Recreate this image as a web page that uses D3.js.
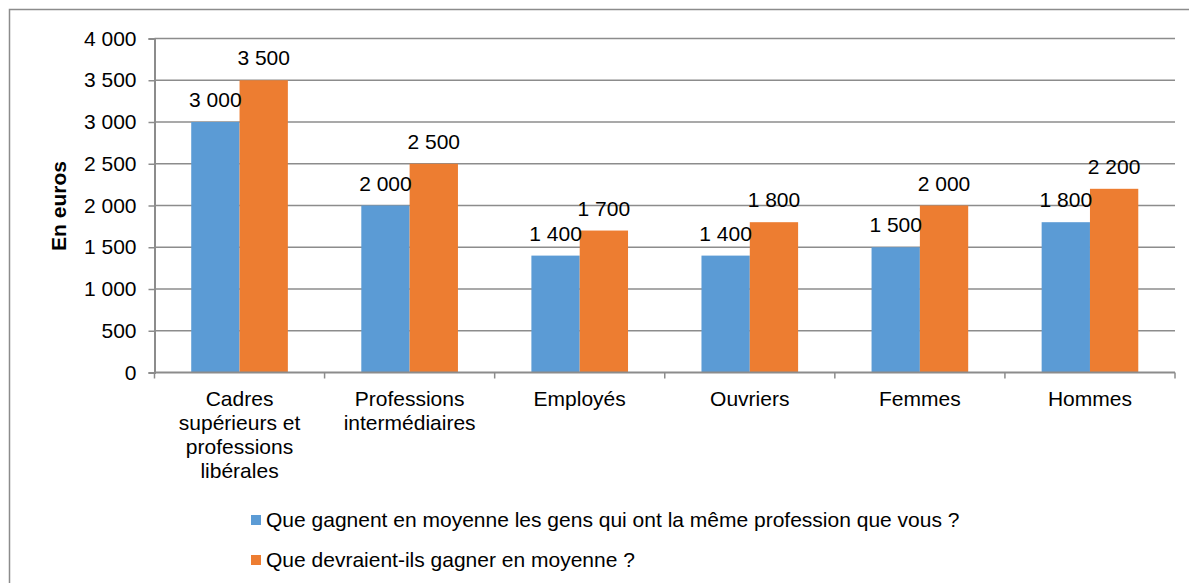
<!DOCTYPE html>
<html>
<head>
<meta charset="utf-8">
<script src="https://cdn.jsdelivr.net/npm/d3@7"></script>
<style>
  body { margin: 0; background: #fff; }
  text { font-family: "Liberation Sans", Arial, sans-serif; fill: #000; }
</style>
</head>
<body>
<div id="chart"></div>
<script>
var categories = [
  ["Cadres", "supérieurs et", "professions", "libérales"],
  ["Professions", "intermédiaires"],
  ["Employés"],
  ["Ouvriers"],
  ["Femmes"],
  ["Hommes"]
];
var seriesNames = [
  "Que gagnent en moyenne les gens qui ont la même profession que vous ?",
  "Que devraient-ils gagner en moyenne ?"
];
var gagnent = [3000, 2000, 1400, 1400, 1500, 1800];
var devraient = [3500, 2500, 1700, 1800, 2000, 2200];
var yTicks = [0, 500, 1000, 1500, 2000, 2500, 3000, 3500, 4000];
var colors = ["#5b9bd5", "#ed7d31"];

var width = 1189;
var height = 583;
var m = { l: 154.5, t: 38.5, r: 14, b: 210.5 };
var fs = "21px";

var fmt = (v) => d3.format(",")(v).replace(/,/g, " ");

var svg = d3
  .select("#chart")
  .append("svg")
  .attr("width", width)
  .attr("height", height);

// outer frame (right and bottom edges fall outside the picture)
svg.append("rect")
  .attr("x", 9.5)
  .attr("y", 9.5)
  .attr("width", width)
  .attr("height", height)
  .attr("fill", "none")
  .attr("stroke", "#8c8c8c")
  .attr("stroke-width", 1.5);

var x0 = d3.scaleBand()
  .domain(d3.range(categories.length))
  .range([m.l, width - m.r]);

var x1 = d3.scaleBand()
  .domain([0, 1])
  .range([0, x0.bandwidth()])
  .paddingOuter(0.76);

var y = d3.scaleLinear()
  .domain([0, 4000])
  .range([height - m.b, m.t]);

// gridlines
svg.append("g")
  .selectAll("line")
  .data(yTicks.slice(1))
  .join("line")
  .attr("x1", m.l)
  .attr("x2", width - m.r)
  .attr("y1", (d) => y(d))
  .attr("y2", (d) => y(d))
  .attr("stroke", "#8c8c8c")
  .attr("stroke-width", 1.5);

// bars
var groups = svg.append("g")
  .selectAll("g")
  .data(categories.map((c, i) => [gagnent[i], devraient[i]]))
  .join("g")
  .attr("transform", (d, i) => `translate(${x0(i)},0)`);

groups.selectAll("rect")
  .data((d) => d)
  .join("rect")
  .attr("x", (d, j) => x1(j))
  .attr("width", x1.bandwidth())
  .attr("y", (d) => y(d))
  .attr("height", (d) => y(0) - y(d))
  .attr("fill", (d, j) => colors[j]);

groups.selectAll("text")
  .data((d) => d)
  .join("text")
  .attr("x", (d, j) => x1(j) + x1.bandwidth() / 2)
  .attr("y", (d) => y(d) - 15)
  .attr("text-anchor", "middle")
  .style("font-size", fs)
  .text((d) => fmt(d));

// y axis
var yAxis = svg.append("g")
  .attr("transform", `translate(${m.l},0)`)
  .call(d3.axisLeft(y).tickValues(yTicks).tickSize(6).tickPadding(12).tickFormat(fmt));
yAxis.select(".domain").attr("stroke", "#8c8c8c").attr("stroke-width", 2);
yAxis.selectAll(".tick line").attr("stroke", "#8c8c8c").attr("stroke-width", 1.5);
yAxis.selectAll(".tick text")
  .style("font-size", fs)
  .style("font-family", "'Liberation Sans', Arial, sans-serif")
  .attr("fill", "#000");

// x axis
var xEdges = d3.range(categories.length + 1).map((i) => m.l + i * x0.step());
var xAxis = svg.append("g");
xAxis.append("line")
  .attr("x1", m.l)
  .attr("x2", width - m.r)
  .attr("y1", y(0))
  .attr("y2", y(0))
  .attr("stroke", "#8c8c8c")
  .attr("stroke-width", 2);
xAxis.selectAll(".edge")
  .data(xEdges)
  .join("line")
  .attr("class", "edge")
  .attr("x1", (d) => d)
  .attr("x2", (d) => d)
  .attr("y1", y(0))
  .attr("y2", y(0) + 6)
  .attr("stroke", "#8c8c8c")
  .attr("stroke-width", 1.5);

var catText = xAxis.selectAll(".cat")
  .data(categories)
  .join("text")
  .attr("class", "cat")
  .attr("text-anchor", "middle")
  .style("font-size", fs)
  .attr("x", (d, i) => x0(i) + x0.bandwidth() / 2)
  .attr("y", y(0) + 33);
catText.selectAll("tspan")
  .data((d) => d)
  .join("tspan")
  .attr("x", function () { return this.parentNode.getAttribute("x"); })
  .attr("dy", (d, k) => (k === 0 ? 0 : 24))
  .text((d) => d);

// y axis title
svg.append("text")
  .attr("transform", "translate(66,206) rotate(-90)")
  .attr("text-anchor", "middle")
  .style("font-size", fs)
  .style("font-weight", "bold")
  .text("En euros");

// legend
var legend = svg.append("g")
  .selectAll("g")
  .data(seriesNames)
  .join("g")
  .attr("transform", (d, i) => `translate(251,${520 + i * 40})`);
legend.append("rect")
  .attr("x", 0)
  .attr("y", -5)
  .attr("width", 10)
  .attr("height", 10)
  .attr("fill", (d, i) => colors[i]);
legend.append("text")
  .attr("x", 15)
  .attr("y", 7)
  .style("font-size", fs)
  .text((d) => d);
</script>
</body>
</html>
